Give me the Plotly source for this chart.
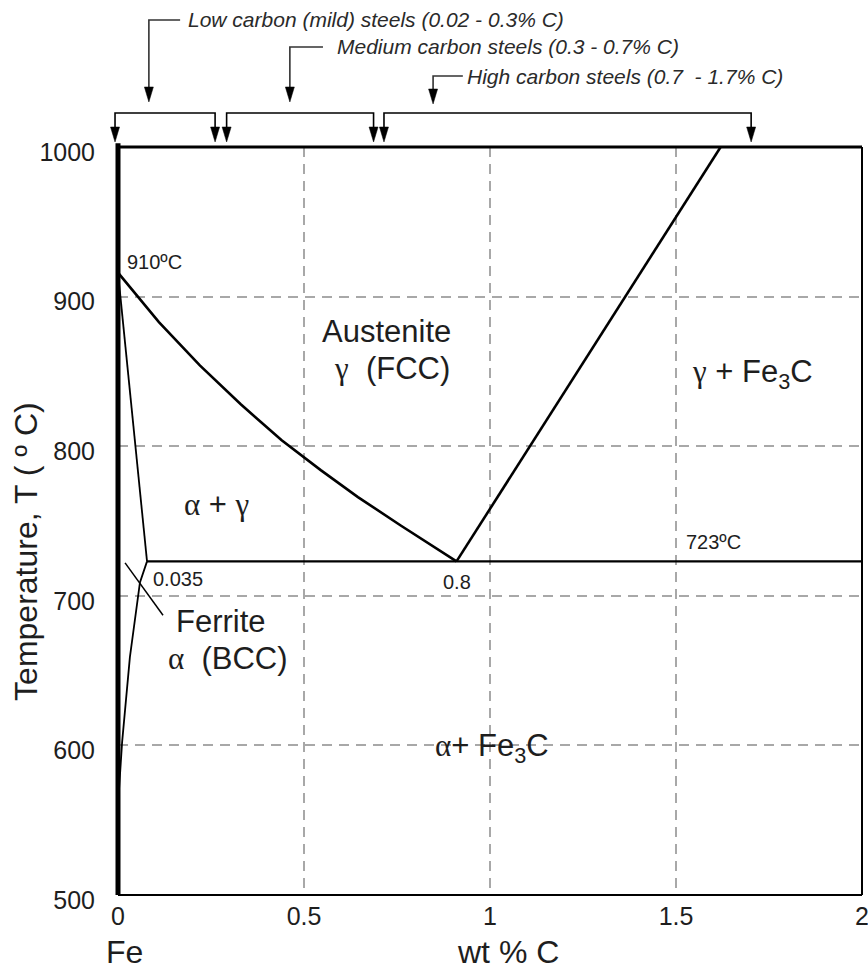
import plotly.graph_objects as go

# ---------------- data (wt % C as drawn, temperature in °C) ----------------
x_ticks = [0, 0.5, 1, 1.5, 2]
x_ticktext = ["0", "0.5", "1", "1.5", "2"]
y_ticks = [500, 600, 700, 800, 900, 1000]

# gamma / (alpha+gamma) boundary (A3)
a3_x = [0, 0.11, 0.22, 0.33, 0.44, 0.545, 0.645, 0.76, 0.91]
a3_t = [916, 883, 854, 828, 804, 784, 766, 747, 723]
# gamma / (gamma+Fe3C) boundary (Acm)
acm_x = [0.91, 1.62]
acm_t = [723, 1000]
# eutectoid isotherm
eut_x = [0.078, 2.0]
eut_t = [723, 723]
# alpha / (alpha+gamma) boundary
alpha_x = [0, 0.078]
alpha_t = [916, 723]
# alpha solvus
solvus_x = [0.078, 0.059, 0.032, 0.011, 0]
solvus_t = [723, 709, 659, 602, 560]
# leader line for the ferrite label
leader_x = [0.019, 0.121]
leader_t = [722, 687]

# steel composition ranges drawn above the plot
bracket_start = [-0.008, 0.292, 0.715]
bracket_end = [0.261, 0.687, 1.702]
range_labels = ["Low carbon (mild) steels (0.02 - 0.3% C)",
                "Medium carbon steels (0.3 - 0.7% C)",
                "High carbon steels (0.7  - 1.7% C)"]
pointer_x = [0.083, 0.462, 0.847]
hook_end_x = [0.167, 0.551, 0.927]
label_x = [0.183, 0.583, 0.933]
label_y = [1.1698, 1.1337, 1.0949]
pointer_tip_y = [1.0602, 1.0602, 1.0575]
bracket_y = 1.0455
bracket_tip_y = 1.0067

X_MAX = 2.0  # x range upper limit, used to place the out-of-plot marks in paper units

GREEK = "font-family:Liberation Serif"
def g(ch):
    return f'<span style="{GREEK}">{ch}</span>'

# phase labels: text, x, T, size
phase_labels = [
    ("Austenite", 0.723, 877, 31),
    (f"{g('γ')}  (FCC)", 0.737, 852, 31),
    (f"{g('γ')} + Fe<sub>3</sub>C", 1.705, 848, 31),
    (f"{g('α')} + {g('γ')}", 0.266, 761, 31),
    ("Ferrite", 0.277, 683, 31),
    (f"{g('α')}  (BCC)", 0.296, 658, 31),
    (f"{g('α')}+ Fe<sub>3</sub>C", 1.005, 598, 31),
    ("910ºC", 0.097, 923, 20),
    ("0.035", 0.161, 711, 20),
    ("0.8", 0.911, 709, 20),
    ("723ºC", 1.6, 736, 20),
]

TXT = "#1e1e1e"
FONT = "Liberation Sans"

fig = go.Figure()

def line(xs, ts, w):
    fig.add_trace(go.Scatter(x=xs, y=ts, mode="lines",
                             line=dict(color="black", width=w),
                             hoverinfo="skip", showlegend=False))

line(a3_x, a3_t, 2.6)
line(acm_x, acm_t, 2.6)
line(eut_x, eut_t, 2.4)
line(alpha_x, alpha_t, 1.8)
line(solvus_x, solvus_t, 1.8)
line(leader_x, leader_t, 1.5)

shapes = []
# plot borders
shapes.append(dict(type="line", xref="paper", yref="paper", x0=0, x1=0, y0=0, y1=1.005,
                   line=dict(color="black", width=5), layer="above"))
shapes.append(dict(type="line", xref="paper", yref="paper", x0=0, x1=1, y0=1, y1=1,
                   line=dict(color="black", width=3), layer="above"))
shapes.append(dict(type="line", xref="paper", yref="paper", x0=1, x1=1, y0=0, y1=1,
                   line=dict(color="black", width=2), layer="above"))
shapes.append(dict(type="line", xref="paper", yref="paper", x0=0, x1=1, y0=0, y1=0,
                   line=dict(color="black", width=2), layer="above"))

HW = 4.5 / 744.0   # arrowhead half width (paper units)
HL = 15 / 748.0    # arrowhead length (paper units)

def px(x):
    return x / X_MAX

def arrowhead(x, ytip):
    x = px(x)
    return dict(type="path", xref="paper", yref="paper",
                path=f"M {x-HW},{ytip+HL} L {x+HW},{ytip+HL} L {x},{ytip} Z",
                fillcolor="black", line=dict(color="black", width=0.5), layer="above")

for x0, x1 in zip(bracket_start, bracket_end):
    shapes.append(dict(type="path", xref="paper", yref="paper",
                       path=(f"M {px(x0)},{bracket_tip_y+HL} L {px(x0)},{bracket_y} "
                             f"L {px(x1)},{bracket_y} L {px(x1)},{bracket_tip_y+HL}"),
                       line=dict(color="black", width=1.6), layer="above"))
    shapes.append(arrowhead(x0, bracket_tip_y))
    shapes.append(arrowhead(x1, bracket_tip_y))

for pxx, hx, ly, ty in zip(pointer_x, hook_end_x, label_y, pointer_tip_y):
    shapes.append(dict(type="path", xref="paper", yref="paper",
                       path=f"M {px(hx)},{ly} L {px(pxx)},{ly} L {px(pxx)},{ty+HL}",
                       line=dict(color="#333333", width=1.6), layer="above"))
    shapes.append(arrowhead(pxx, ty))

annotations = []
for txt, lx, ly in zip(range_labels, label_x, label_y):
    annotations.append(dict(text=f"<i>{txt}</i>", x=lx, y=ly, xref="x", yref="paper",
                            xanchor="left", yanchor="middle", showarrow=False,
                            font=dict(family=FONT, size=21, color="#2a2a2a")))

for txt, lx, lt, sz in phase_labels:
    annotations.append(dict(text=txt, x=lx, y=lt, xref="x", yref="y",
                            xanchor="center", yanchor="middle", showarrow=False,
                            font=dict(family=FONT, size=sz, color=TXT)))

annotations.append(dict(text="Temperature, T ( º C)", x=-0.1237, y=0.46, xref="paper", yref="paper",
                        textangle=-90, showarrow=False, xanchor="center", yanchor="middle",
                        font=dict(family=FONT, size=32, color=TXT)))
annotations.append(dict(text="Fe", x=0.0094, y=-0.0762, xref="paper", yref="paper",
                        showarrow=False, xanchor="center", yanchor="middle",
                        font=dict(family=FONT, size=32, color=TXT)))
annotations.append(dict(text="wt % C", x=0.524, y=-0.0762, xref="paper", yref="paper",
                        showarrow=False, xanchor="center", yanchor="middle",
                        font=dict(family=FONT, size=32, color=TXT)))

grid = dict(showgrid=True, gridcolor="#a8a8a8", gridwidth=1.5, griddash="10px,7px",
            zeroline=False, showline=False, ticks="", automargin=False,
            ticklabeloverflow="allow")

fig.update_layout(
    width=868, height=976,
    margin=dict(l=118, r=6, t=147, b=81, autoexpand=False),
    paper_bgcolor="white", plot_bgcolor="white",
    showlegend=False,
    xaxis=dict(range=[0, X_MAX], tickvals=x_ticks, ticktext=x_ticktext,
               tickfont=dict(family=FONT, size=25, color=TXT),
               ticklabelstandoff=4, **grid),
    yaxis=dict(range=[500, 1000], tickvals=y_ticks,
               tickfont=dict(family=FONT, size=25, color=TXT),
               ticklabelstandoff=22, ticklabelshift=5, **grid),
    shapes=shapes,
    annotations=annotations,
)

fig.write_html("out.html", config={"displayModeBar": False},
               post_script="document.body.style.margin='0';document.body.style.overflow='hidden';")
